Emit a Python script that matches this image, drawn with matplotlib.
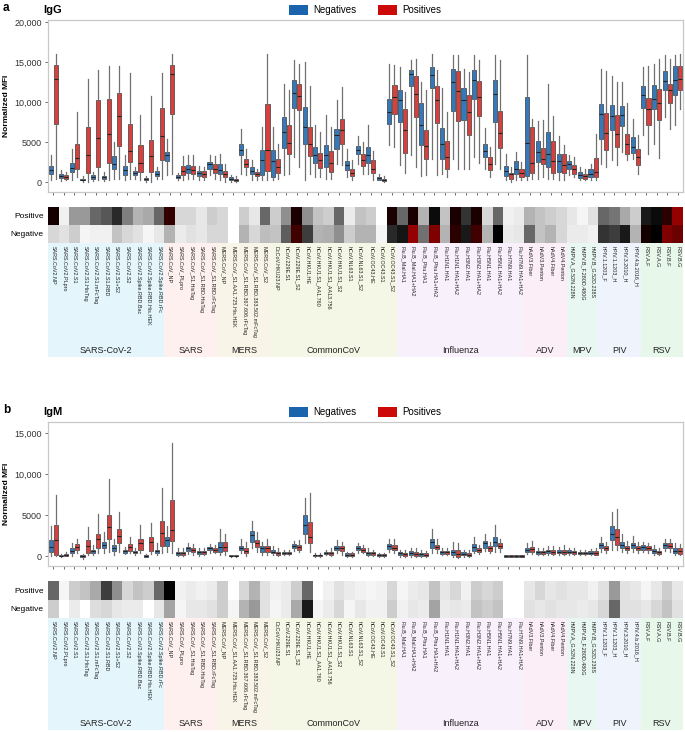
import matplotlib
matplotlib.use("Agg")
import matplotlib.pyplot as plt
from matplotlib.colors import LinearSegmentedColormap
from matplotlib.patches import Patch
import numpy as np

plt.rcParams['font.family'] = ['Liberation Sans', 'DejaVu Sans']

# antigens and groups
antigens = [
    'SARS.CoV2.NP', 'SARS.CoV2.PLpro', 'SARS.CoV2.S1', 'SARS.CoV2.S1.HisTag', 'SARS.CoV2.S1.mFcTag',
    'SARS.CoV2.S1.RBD', 'SARS.CoV2.S1+S2', 'SARS.CoV2.S2', 'SARS.CoV2.Spike.RBD.Bac',
    'SARS.CoV2.Spike.RBD.His.HEK', 'SARS.CoV2.Spike.RBD.rFc',
    'SARS.CoV_NP', 'SARS.CoV_PLpro', 'SARS.CoV_S1.HisTag', 'SARS.CoV_S1.RBD.HisTag', 'SARS.CoV_S1.RBD.rFcTag',
    'MERS.CoV_NP', 'MERS.CoV_S1.AA1.725.His.HEK', 'MERS.CoV_S1.RBD.367.606.rFcTag',
    'MERS.CoV_S1.RBD.383.502.mFcTag', 'MERS.CoV_S2',
    'DcCoV.HKU23.NP', 'hCoV.229E.S1', 'hCoV.229E.S1_S2', 'hCoV.HKU1.HE', 'hCoV.HKU1.S1_AA1.760',
    'hCoV.HKU1.S1_AA13.756', 'hCoV.HKU1.S1_S2', 'hCoV.NL63.S1', 'hCoV.NL63.S1_S2', 'hCoV.OC43.HE',
    'hCoV.OC43.S1', 'hCoV.OC43.S1_S2',
    'Flu.B_Mal.HA1', 'Flu.B_Mal.HA1+HA2', 'Flu.B_Phu.HA1', 'Flu.B_Phu.HA1+HA2', 'Flu.H1N1.HA1',
    'Flu.H1N1.HA1+HA2', 'Flu.H3N2.HA1', 'Flu.H3N2.HA1+HA2', 'Flu.H5N1.HA1', 'Flu.H5N1.HA1+HA2',
    'Flu.H7N9.HA1', 'Flu.H7N9.HA1+HA2',
    'hAdV3.Fiber', 'hAdV3.Penton', 'hAdV4.Fiber', 'hAdV4.Penton',
    'hMPV.A_G.52N.228N', 'hMPV.B_F.280D.480G', 'hMPV.B_G.52D.238S',
    'hPIV.1.1203_F', 'hPIV.1.1203_H', 'hPIV.3.2010_H', 'hPIV.4.b.2016_H',
    'RSV.A.F', 'RSV.A.G', 'RSV.B.F', 'RSV.B.G']
groups = ['SARS-CoV-2', 'SARS', 'MERS', 'CommonCoV', 'Influenza', 'ADV', 'MPV', 'PIV', 'RSV']
group_sizes = [11, 5, 5, 12, 12, 4, 3, 4, 4]
group_colors = ['#e4f5fc', '#fdf0ef', '#f8f5e8', '#f4f7e5', '#f8f0fb', '#fbeef7', '#e8f7f2', '#eef3fc', '#e7f7e9']

# box stats: (whisker low, q1, median, q3, whisker high)
igg_neg = [
    (300, 1050, 1550, 2000, 3350), (100, 550, 750, 950, 1550), (300, 1250, 1750, 2400, 4100),
    (0, 200, 300, 420, 700), (170, 420, 630, 830, 1250), (130, 380, 580, 750, 1250),
    (420, 1670, 2200, 3200, 5000), (290, 920, 1450, 2000, 3350), (420, 830, 1100, 1330, 1900),
    (0, 200, 380, 540, 750), (420, 750, 1050, 1380, 1900), (830, 2600, 3350, 3750, 5400),
    (200, 500, 670, 830, 1150), (330, 1150, 1650, 2100, 3350), (200, 700, 1100, 1330, 2000),
    (830, 1670, 2200, 2500, 3350), (200, 950, 1550, 2300, 3550), (0, 200, 400, 620, 830),
    (1050, 3350, 3950, 4800, 6650), (200, 1050, 1380, 1880, 2700), (200, 830, 2700, 3950, 6900),
    (200, 630, 2600, 3950, 6900), (830, 4250, 6200, 8100, 12200), (3100, 9250, 11150, 12700, 15300),
    (200, 4700, 6900, 9400, 15000), (630, 2400, 3350, 4400, 7100), (420, 1880, 3350, 4600, 8350),
    (2300, 4150, 5850, 6650, 10200), (630, 1550, 2100, 2600, 4150), (2300, 3450, 3950, 4500, 5700),
    (1050, 2400, 3350, 4400, 7100), (200, 300, 450, 630, 1050), (4600, 7300, 8750, 10400, 14700),
    (2100, 7500, 10200, 11550, 14400), (3350, 11950, 13450, 13950, 15200), (700, 4600, 7100, 9900, 12500),
    (2900, 11800, 13350, 14400, 15950), (1050, 2900, 4700, 6800, 11800), (2900, 8900, 12500, 14150, 15900),
    (1650, 7800, 10200, 11800, 14150), (3100, 10400, 12700, 14050, 15900), (1650, 3100, 3900, 4700, 6750),
    (2300, 7500, 11050, 12700, 15900), (200, 750, 1380, 2000, 3450), (300, 950, 1650, 2600, 3750),
    (200, 700, 4900, 10600, 15850), (420, 2500, 3750, 5100, 7600), (420, 1880, 3550, 6250, 12200),
    (200, 1250, 2600, 3550, 5700), (830, 1650, 2200, 2600, 3350), (200, 550, 830, 1250, 1880),
    (200, 630, 1050, 1650, 2300), (2300, 5400, 8550, 9700, 14100), (2800, 6550, 8250, 9600, 13200),
    (3750, 7000, 8350, 9500, 12500), (2900, 3650, 4400, 5600, 7900), (5850, 9300, 10900, 11950, 14400),
    (4800, 9150, 10400, 12100, 14800), (8100, 11450, 12600, 13850, 15900), (7100, 10850, 12700, 14450, 15850)]
igg_pos = [
    (400, 7300, 12850, 14600, 15950), (200, 420, 630, 880, 1250), (630, 1650, 3050, 4700, 8800),
    (0, 1130, 3350, 6900, 12850), (200, 1880, 5550, 10200, 13950), (200, 2400, 6050, 10400, 14450),
    (420, 4450, 8200, 11100, 14500), (420, 2500, 3900, 7300, 13650), (200, 1250, 2400, 4600, 8350),
    (0, 1250, 3250, 5300, 10700), (330, 2700, 5700, 9300, 13600), (1050, 8550, 13450, 14650, 15950),
    (200, 830, 1380, 1950, 3200), (330, 1050, 1450, 2000, 3350), (200, 630, 1000, 1330, 1880),
    (420, 1150, 1650, 2200, 3200), (0, 630, 950, 1330, 2300), (0, 120, 250, 420, 700),
    (830, 1880, 2300, 2900, 4150), (200, 700, 950, 1250, 1650), (200, 1380, 3950, 9700, 15950),
    (420, 1130, 1880, 2850, 4800), (1050, 3550, 4900, 7100, 11550), (1880, 8950, 10700, 12300, 14700),
    (1050, 3300, 4700, 6900, 11950), (630, 1800, 2700, 3600, 6250), (420, 1250, 2400, 3850, 6900),
    (2100, 4700, 6450, 7900, 11900), (200, 700, 1150, 1600, 2700), (1050, 1950, 2700, 3450, 5000),
    (300, 1130, 1650, 2700, 3900), (0, 120, 250, 420, 700), (4400, 8550, 10600, 12100, 14600),
    (1130, 3600, 6450, 9100, 11250), (1880, 8100, 10950, 13200, 15400), (830, 2900, 4450, 6450, 11450),
    (830, 7400, 10200, 12000, 13950), (630, 1650, 3100, 5100, 8750), (1650, 7600, 11350, 13850, 15900),
    (1650, 5850, 8750, 10850, 13750), (2400, 8200, 10600, 12600, 15300), (630, 1550, 2300, 3100, 4400),
    (1650, 4250, 6100, 8900, 15200), (0, 420, 950, 1150, 1880), (200, 630, 1130, 1580, 2500),
    (420, 1130, 2400, 6900, 7900), (630, 2200, 2900, 4250, 7700), (420, 1130, 2600, 5100, 8200),
    (200, 1130, 2100, 3550, 4600), (630, 1050, 1650, 2150, 3100), (200, 420, 750, 1050, 1650),
    (200, 630, 1250, 3050, 6050), (1880, 4050, 6100, 8650, 13900), (2100, 4400, 5950, 8350, 12500),
    (2700, 3550, 4700, 6050, 9900), (950, 2150, 3100, 4100, 5850), (3450, 7100, 9150, 10550, 14450),
    (3050, 7700, 9900, 11650, 15400), (6650, 9900, 11450, 12300, 15400), (9150, 11550, 12900, 14450, 15950)]
igm_neg = [
    (0, 530, 1150, 1950, 3650), (-100, 0, 60, 150, 300), (0, 330, 650, 950, 1550),
    (-300, -150, -30, 120, 300), (120, 330, 600, 800, 1350), (400, 950, 1350, 1750, 2950),
    (120, 650, 950, 1300, 2050), (250, 400, 600, 770, 1150), (200, 330, 530, 650, 950),
    (-160, -80, 40, 120, 240), (120, 330, 600, 800, 1550), (530, 1200, 1950, 2350, 3650),
    (0, 200, 370, 530, 950), (250, 600, 950, 1150, 1650), (0, 250, 450, 600, 950),
    (400, 750, 950, 1150, 1450), (120, 530, 1150, 1750, 3350), (-120, -40, 40, 120, 200),
    (400, 750, 1000, 1200, 2050), (950, 1750, 2550, 3100, 4300), (120, 530, 950, 1200, 1750),
    (120, 330, 530, 750, 1200), (80, 250, 370, 500, 750), (650, 950, 1200, 1450, 1850),
    (1550, 2650, 3800, 5000, 7050), (-80, 0, 120, 200, 330), (80, 250, 370, 500, 750),
    (330, 750, 1000, 1200, 1950), (-80, 40, 200, 330, 530), (400, 750, 1000, 1200, 1650),
    (0, 200, 370, 530, 950), (-80, 0, 120, 250, 400), (530, 900, 1200, 1450, 2050),
    (-80, 120, 330, 530, 800), (-80, 120, 400, 600, 1050), (-80, 40, 250, 400, 750),
    (330, 1050, 1750, 2050, 3350), (80, 250, 450, 650, 1050), (-80, 120, 450, 800, 1750),
    (-80, 80, 250, 450, 800), (330, 650, 1150, 1450, 2350), (650, 1050, 1550, 1850, 2750),
    (530, 1200, 1750, 2300, 3800), (-160, -80, 40, 120, 200), (-160, -80, 40, 120, 200),
    (250, 530, 800, 1050, 1550), (120, 250, 450, 650, 950), (120, 330, 600, 800, 1200),
    (120, 330, 530, 750, 1150), (120, 330, 530, 750, 1050), (80, 250, 400, 530, 800),
    (80, 250, 400, 570, 900), (530, 1050, 1400, 1650, 2350), (750, 1950, 2750, 3650, 5400),
    (530, 1050, 1400, 1750, 2650), (530, 1050, 1350, 1650, 2500), (530, 800, 1150, 1350, 1750),
    (80, 330, 600, 850, 1350), (650, 1050, 1350, 1650, 2150), (80, 330, 600, 950, 1550)]
igm_pos = [
    (0, 150, 1950, 3850, 7500), (0, 50, 150, 250, 450), (330, 750, 1150, 1450, 2050),
    (120, 330, 1200, 1950, 3500), (330, 950, 2150, 2750, 5100), (530, 2050, 3500, 5000, 9400),
    (530, 1550, 2450, 3250, 5400), (330, 600, 1150, 1450, 2350), (400, 800, 1550, 2050, 3800),
    (250, 650, 1750, 2300, 4000), (330, 1200, 2850, 4300, 8350), (330, 1850, 3150, 6850, 13750),
    (0, 200, 370, 530, 950), (120, 450, 750, 950, 1450), (80, 250, 450, 600, 950),
    (330, 530, 750, 950, 1350), (120, 650, 1150, 1750, 2750), (-120, -40, 40, 120, 200),
    (0, 330, 650, 950, 1750), (530, 1150, 1550, 1950, 2950), (120, 450, 950, 1200, 2150),
    (0, 200, 370, 530, 950), (80, 250, 370, 500, 750), (530, 800, 1150, 1350, 1950),
    (530, 1550, 2350, 4200, 7650), (-80, 0, 120, 200, 330), (0, 200, 370, 530, 950),
    (120, 600, 950, 1200, 1750), (-80, 40, 200, 330, 530), (330, 530, 750, 950, 1350),
    (0, 160, 330, 450, 750), (-80, 0, 120, 250, 400), (330, 750, 1050, 1350, 2050),
    (-80, 0, 250, 400, 750), (-160, 0, 250, 450, 1050), (-160, 0, 160, 330, 650),
    (330, 850, 1150, 1400, 2050), (80, 250, 450, 650, 1050), (-280, -80, 250, 750, 1650),
    (-160, 0, 160, 370, 750), (250, 450, 750, 950, 1350), (330, 650, 950, 1200, 1750),
    (530, 950, 1200, 1550, 2050), (-160, -80, 40, 120, 200), (-160, -80, 40, 120, 200),
    (250, 530, 850, 1150, 1850), (120, 250, 450, 650, 950), (80, 250, 530, 750, 1200),
    (80, 250, 530, 800, 1300), (80, 250, 450, 650, 1000), (80, 250, 400, 530, 800),
    (80, 200, 400, 570, 1050), (400, 750, 950, 1200, 1750), (800, 1350, 2350, 3250, 5750),
    (330, 750, 950, 1200, 1850), (330, 750, 950, 1200, 1750), (400, 750, 950, 1200, 1650),
    (80, 250, 450, 600, 1050), (530, 950, 1200, 1550, 2050), (80, 250, 600, 950, 1450)]

# heatmap intensity (0 = white, 0.5 = black, 1 = red)
igg_heat_pos = [0.55, 0.03, 0.2, 0.2, 0.3, 0.33, 0.42, 0.25, 0.15, 0.17, 0.3,
                0.62, 0.08, 0.08, 0.05, 0.1, 0.08, 0.0, 0.1, 0.05, 0.3,
                0.1, 0.22, 0.56, 0.22, 0.12, 0.1, 0.3, 0.04, 0.12, 0.1, 0.0, 0.56,
                0.3, 0.56, 0.15, 0.48, 0.12, 0.56, 0.4, 0.56, 0.08, 0.3, 0.03, 0.04,
                0.15, 0.12, 0.1, 0.08, 0.05, 0.02, 0.06, 0.3, 0.27, 0.17, 0.1,
                0.45, 0.48, 0.6, 0.85]
igg_heat_neg = [0.08, 0.06, 0.1, 0.02, 0.03, 0.03, 0.12, 0.08, 0.06, 0.02, 0.05,
                0.15, 0.04, 0.06, 0.05, 0.08, 0.08, 0.0, 0.15, 0.08, 0.13,
                0.12, 0.32, 0.65, 0.38, 0.15, 0.16, 0.22, 0.1, 0.15, 0.15, 0.02, 0.42,
                0.46, 0.85, 0.28, 0.8, 0.15, 0.6, 0.45, 0.65, 0.15, 0.5, 0.04, 0.05,
                0.3, 0.12, 0.15, 0.08, 0.04, 0.04, 0.03, 0.4, 0.38, 0.45, 0.15,
                0.55, 0.5, 0.8, 0.75]
igm_heat_pos = [0.3, 0.02, 0.1, 0.12, 0.17, 0.38, 0.22, 0.08, 0.12, 0.1, 0.3,
                0.5, 0.03, 0.04, 0.03, 0.04, 0.1, 0.0, 0.08, 0.15, 0.06,
                0.03, 0.04, 0.1, 0.3, 0.0, 0.03, 0.06, 0.04, 0.03, 0.02, 0.03, 0.08,
                0.02, 0.04, 0.05, 0.12, 0.05, 0.08, 0.03, 0.1, 0.08, 0.1, 0.0, 0.0,
                0.05, 0.08, 0.05, 0.06, 0.05, 0.05, 0.03, 0.06, 0.2, 0.06, 0.05,
                0.02, 0.05, 0.1, 0.05]
igm_heat_neg = [0.1, 0.0, 0.04, 0.0, 0.07, 0.08, 0.05, 0.04, 0.04, 0.0, 0.05,
                0.18, 0.02, 0.05, 0.05, 0.06, 0.1, 0.02, 0.15, 0.2, 0.06,
                0.02, 0.04, 0.17, 0.45, 0.02, 0.04, 0.08, 0.02, 0.05, 0.03, 0.03, 0.1,
                0.03, 0.05, 0.04, 0.18, 0.04, 0.05, 0.04, 0.12, 0.1, 0.12, 0.0, 0.0,
                0.06, 0.05, 0.06, 0.05, 0.05, 0.04, 0.05, 0.08, 0.3, 0.06, 0.06,
                0.05, 0.08, 0.12, 0.06]

neg_color = '#3579bd'
pos_color = '#d7403d'
heat_cmap = LinearSegmentedColormap.from_list('wkr', [(0, 'white'), (0.5, 'black'), (1, '#d40000')])

W, H = 685, 732
fig = plt.figure(figsize=(W / 100, H / 100), dpi=100)


def px_axes(x0, y0, x1, y1):
    return fig.add_axes([x0 / W, 1 - y1 / H, (x1 - x0) / W, (y1 - y0) / H])


def to_stats(rows):
    return [dict(whislo=r[0], q1=r[1], med=r[2], q3=r[3], whishi=r[4]) for r in rows]


def draw_panel(letter, title, neg, pos, heat_pos, heat_neg, ylim, yticks, ytick_labels,
               box_top, box_bot, heat_top, heat_bot, band_bot):
    n = len(antigens)
    centers = np.arange(n) + 0.5

    ax = px_axes(48, box_top, 683, box_bot)
    for data, off, col in [(neg, -0.24, neg_color), (pos, 0.24, pos_color)]:
        ax.bxp(to_stats(data), positions=centers + off, widths=0.38, patch_artist=True,
               showcaps=False, showfliers=False,
               boxprops=dict(facecolor=col, edgecolor='#3a3a3a', linewidth=0.5),
               medianprops=dict(color='#222222', linewidth=0.8),
               whiskerprops=dict(color='#707070', linewidth=0.9))
    ax.set_xlim(0, n)
    ax.set_ylim(*ylim)
    ax.set_xticks(centers)
    ax.set_xticklabels([])
    ax.set_yticks(yticks)
    ax.set_yticklabels(ytick_labels, fontsize=6.5, color='#333333')
    ax.tick_params(axis='both', length=2.5, width=0.6, color='#555555', pad=2)
    for s in ax.spines.values():
        s.set_color('#c8c8c8')
        s.set_linewidth(0.9)
    ax.set_ylabel('Normalized MFI', fontsize=6, fontweight='bold', labelpad=3)

    fig.text(3 / W, 1 - (box_top - 12) / H, letter, fontsize=8.5, fontweight='bold', va='center')
    fig.text(43 / W, 1 - (box_top - 10) / H, title, fontsize=8, fontweight='bold', va='center')
    handles = [Patch(facecolor='#1a63ad', label='Negatives'), Patch(facecolor='#cc0a0a', label='Positives')]
    fig.legend(handles=handles, loc='center', bbox_to_anchor=(365 / W, 1 - (box_top - 10) / H),
               ncol=2, frameon=False, fontsize=7, handlelength=2.0, handleheight=1.3,
               columnspacing=2.2, handletextpad=0.5)

    hx = px_axes(48, heat_top, 683, heat_bot)
    hx.pcolormesh(np.arange(n + 1), [0, 1, 2], np.array([heat_neg, heat_pos]),
                  cmap=heat_cmap, vmin=0, vmax=1)
    hx.set_xlim(0, n)
    hx.set_ylim(0, 2)
    hx.set_xticks([])
    hx.set_yticks([1.5, 0.5])
    hx.set_yticklabels(['Positive', 'Negative'], fontsize=6)
    hx.tick_params(axis='y', length=0, pad=3)
    for s in hx.spines.values():
        s.set_visible(False)

    bx = px_axes(48, heat_bot, 683, band_bot)
    bx.set_xlim(0, n)
    bx.set_ylim(0, 1)
    bx.axis('off')
    start = 0
    for g, size, col in zip(groups, group_sizes, group_colors):
        bx.axvspan(start, start + size, color=col, lw=0)
        bx.text(start + size / 2, 0.06, g, ha='center', va='center', fontsize=6.5, color='#222222')
        start += size
    for c, name in zip(centers, antigens):
        bx.text(c, 0.97, name, rotation=270, ha='center', va='top', fontsize=3.9, color='#222222')


draw_panel('a', 'IgG', igg_neg, igg_pos, igg_heat_pos, igg_heat_neg,
           (-1250, 20250), [0, 5000, 10000, 15000, 20000], ['0', '5000', '10,000', '15,000', '20,000'],
           20, 192, 207, 243, 357)
draw_panel('b', 'IgM', igm_neg, igm_pos, igm_heat_pos, igm_heat_neg,
           (-1200, 16350), [0, 5000, 10000, 15000], ['0', '5000', '10,000', '15,000'],
           422, 566, 581, 618, 730)

fig.savefig('out.png', dpi=100)
